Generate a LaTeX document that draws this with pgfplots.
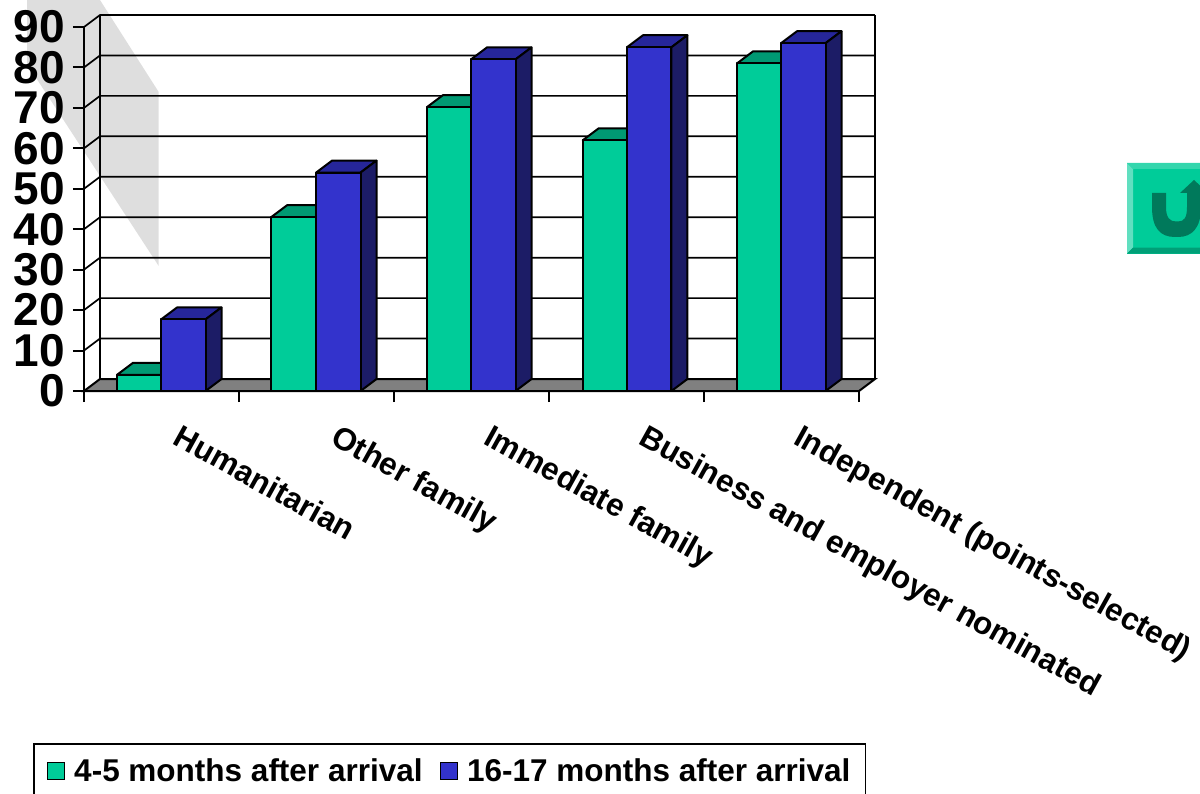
\documentclass[border=0pt]{standalone}
\usepackage{fontspec}
\setmainfont{Liberation Sans}
\usepackage{pgfplots}
\pgfplotsset{compat=1.18}

\definecolor{frontgreen}{HTML}{00CC99}
\definecolor{topgreen}{HTML}{009973}
\definecolor{sidegreen}{HTML}{006B50}
\definecolor{frontblue}{HTML}{3333CC}
\definecolor{topblue}{HTML}{26269A}
\definecolor{sideblue}{HTML}{1C1C66}
\definecolor{floorgrey}{HTML}{808080}
\definecolor{bandgrey}{HTML}{DEDEDE}

% depth of the 3D box in data units
\newcommand{\dx}{0.1032}
\newcommand{\dy}{2.967}
\newcommand{\barw}{0.287}

% \solidbar{left edge}{value}{front}{top}{side}
\newcommand{\solidbar}[5]{%
  \addplot[fill=#4,draw=black,line width=2pt,line join=round,forget plot]
    coordinates {(#1,#2) (#1+\barw,#2) (#1+\barw+\dx,#2+\dy) (#1+\dx,#2+\dy)} --cycle;
  \addplot[fill=#5,draw=black,line width=2pt,line join=round,forget plot]
    coordinates {(#1+\barw,0) (#1+\barw+\dx,\dy) (#1+\barw+\dx,#2+\dy) (#1+\barw,#2)} --cycle;
  \addplot[fill=#3,draw=black,line width=2pt,line join=round,forget plot]
    coordinates {(#1,0) (#1+\barw,0) (#1+\barw,#2) (#1,#2)} --cycle;
}

\begin{document}
\begin{tikzpicture}[x=1pt,y=1pt]
\clip (0,0) rectangle (1200,793);

% diagonal band behind the plot
\fill[bandgrey] (27,793) -- (100,793) -- (158.7,701) -- (158.7,527) -- (27,729) -- cycle;

% return button
\fill[frontgreen] (1127,539.4) rectangle (1200,630);
\fill[frontgreen!62!white] (1127,539.4) -- (1133,545.4) -- (1133,624) -- (1127,630) -- cycle;
\fill[frontgreen!80!white] (1127,630) -- (1133,624) -- (1200,624) -- (1200,630) -- cycle;
\fill[frontgreen!78!black] (1127,539.4) -- (1133,545.4) -- (1200,545.4) -- (1200,539.4) -- cycle;
\fill[frontgreen!55!black!90!frontgreen] (1152,600) -- (1166,600) -- (1166,586)
  .. controls (1166,575) and (1170,571.5) .. (1176,571.5) -- (1178,571.5)
  .. controls (1184,571.5) and (1187,575) .. (1187,586) -- (1187,600) -- (1180,600)
  -- (1194,613) -- (1208,600) -- (1201,600) -- (1201,586)
  .. controls (1201,565) and (1192,556) .. (1178,556) -- (1175,556)
  .. controls (1160,556) and (1152,565) .. (1152,586) -- cycle;

\begin{axis}[
  at={(84pt,402pt)}, anchor=south west,
  scale only axis, width=775pt, height=364pt,
  xmin=0, xmax=5, ymin=0, ymax=90,
  clip=false,
  axis x line*=bottom, axis y line*=left,
  axis line style={line width=2pt,-},
  xtick={0,1,2,3,4,5}, xticklabels={},
  ytick={0,10,...,90},
  tick align=outside, major tick length=11pt,
  tick style={black,line width=2pt},
  /pgf/number format/assume math mode=true,
  yticklabel style={font=\bfseries\fontsize{46}{46}\selectfont,inner sep=0pt,xshift=-8pt},
  legend columns=2,
  legend style={at={(-51pt,-352pt)},anchor=north west,draw=black,line width=1.5pt,
    font=\bfseries\fontsize{31.5}{36}\selectfont,inner xsep=13pt,inner ysep=13pt,
    /tikz/every even column/.style={column sep=15pt}},
]
% floor
\addplot[fill=floorgrey,draw=black,line width=2pt,forget plot]
  coordinates {(0,0) (\dx,\dy) (5+\dx,\dy) (5,0)} --cycle;
% walls and grid
\pgfplotsinvokeforeach{10,20,...,90}{
  \draw[line width=1.7pt] (axis cs:0,#1) -- (axis cs:\dx,#1+\dy) -- (axis cs:5+\dx,#1+\dy);
}
\draw[line width=2pt] (axis cs:\dx,\dy) -- (axis cs:\dx,90+\dy);
\draw[line width=2pt] (axis cs:5+\dx,\dy) -- (axis cs:5+\dx,90+\dy);

% 4-5 months after arrival
\solidbar{0.213}{4}{frontgreen}{topgreen}{sidegreen}
\solidbar{1.208}{43}{frontgreen}{topgreen}{sidegreen}
\solidbar{2.213}{70.2}{frontgreen}{topgreen}{sidegreen}
\solidbar{3.218}{62}{frontgreen}{topgreen}{sidegreen}
\solidbar{4.213}{81}{frontgreen}{topgreen}{sidegreen}
% 16-17 months after arrival
\solidbar{0.497}{17.7}{frontblue}{topblue}{sideblue}
\solidbar{1.497}{54}{frontblue}{topblue}{sideblue}
\solidbar{2.497}{82}{frontblue}{topblue}{sideblue}
\solidbar{3.503}{85}{frontblue}{topblue}{sideblue}
\solidbar{4.497}{86}{frontblue}{topblue}{sideblue}

\addlegendimage{legend image code/.code={\draw[fill=frontgreen,draw=black,line width=1.5pt] (0pt,-8.5pt) rectangle (17pt,8.5pt); \path (24pt,0pt);}}
\addlegendentry{4-5 months after arrival}
\addlegendimage{legend image code/.code={\draw[fill=frontblue,draw=black,line width=1.5pt] (0pt,-8.5pt) rectangle (17pt,8.5pt); \path (24pt,0pt);}}
\addlegendentry{16-17 months after arrival}

% category names
\begin{scope}[every node/.style={rotate=-29,anchor=north west,inner sep=0pt,
    font=\bfseries\fontsize{31.5}{36}\selectfont}]
\node at (axis cs:0.634,-8) {Humanitarian};
\node at (axis cs:1.655,-8) {Other family};
\node at (axis cs:2.64,-8) {Immediate family};
\node at (axis cs:3.64,-8) {Business and employer nominated};
\node at (axis cs:4.64,-8) {Independent (points-selected)};
\end{scope}
\end{axis}
\end{tikzpicture}
\end{document}
